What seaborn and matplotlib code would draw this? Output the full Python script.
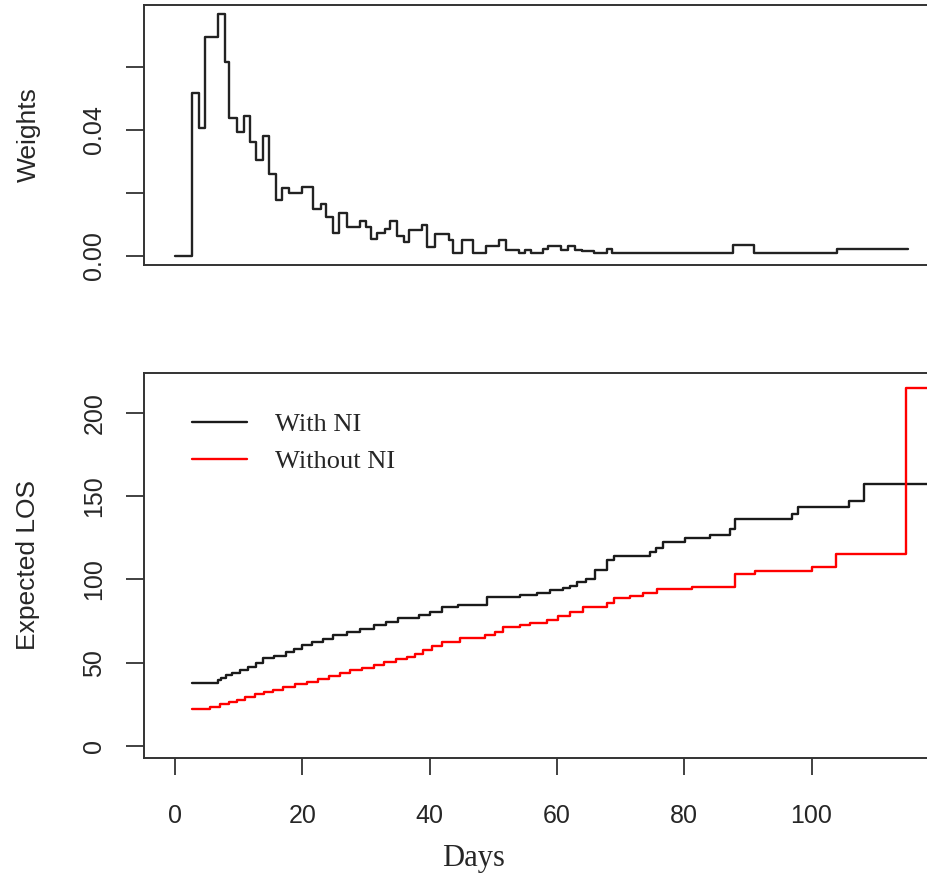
import numpy as np
import pandas as pd
import matplotlib
matplotlib.use("Agg")
import matplotlib.pyplot as plt
import seaborn as sns

# ---------------- data ----------------
weight_days = [0, 2.6, 3.7, 4.7, 6.7, 7.85, 8.5, 9.8, 10.9, 11.8, 12.7, 13.9, 14.7,
               15.8, 16.8, 17.9, 19.9, 21.7, 22.9, 23.7, 24.9, 25.8, 27.0, 29.1, 30.0,
               30.8, 31.7, 33.0, 33.8, 34.9, 35.9, 36.7, 38.8, 39.6, 40.9, 43.0, 43.6,
               45.1, 46.8, 48.8, 50.9, 52.0, 54.1, 55.0, 56.0, 57.8, 58.6, 60.7, 61.8,
               62.9, 63.9, 65.9, 67.9, 68.7, 87.7, 90.9, 104.0, 115.1]
weight_vals = [0.0, 0.0518, 0.0407, 0.0694, 0.0767, 0.0617, 0.0437, 0.0393, 0.0445,
               0.0363, 0.0305, 0.0382, 0.0260, 0.0178, 0.0215, 0.0201, 0.0218, 0.0148,
               0.0165, 0.0123, 0.0072, 0.0138, 0.0093, 0.0112, 0.0093, 0.0053, 0.0072,
               0.0085, 0.0112, 0.0063, 0.0045, 0.0081, 0.0100, 0.0030, 0.0071, 0.0052,
               0.0008, 0.0052, 0.0008, 0.0033, 0.0052, 0.0019, 0.0008, 0.0020, 0.0008,
               0.0022, 0.0033, 0.0020, 0.0033, 0.0020, 0.0017, 0.0008, 0.0022, 0.0008,
               0.0035, 0.0008, 0.0022, 0.0022]

with_days = [2.6, 6.7, 7.3, 8.0, 9.0, 10.2, 11.5, 12.8, 13.9, 15.5, 17.5, 18.7, 19.9,
             21.5, 23.2, 24.9, 27.0, 29.0, 31.2, 33.2, 35.1, 38.4, 40.0, 41.9, 44.5,
             49.0, 54.2, 56.8, 58.9, 61.0, 62.0, 63.1, 64.5, 66.0, 67.8, 68.9, 74.6,
             75.5, 76.7, 80.1, 84.0, 87.2, 88.0, 96.9, 97.9, 105.9, 108.2, 121.7]
with_los = [37.6, 39.5, 41.0, 42.6, 44.0, 45.6, 47.5, 49.6, 52.6, 54.0, 56.6, 58.5,
            60.6, 62.5, 64.5, 66.6, 68.5, 70.5, 72.6, 74.5, 76.6, 78.5, 80.5, 83.2,
            84.6, 89.6, 90.6, 92.0, 93.6, 95.0, 96.0, 98.6, 100.0, 105.6, 111.6, 114.0,
            116.5, 119.0, 122.6, 124.6, 126.6, 130.0, 136.2, 139.5, 143.2, 147.2, 157.3,
            157.3]

without_days = [2.6, 5.5, 7.0, 8.5, 9.7, 11.0, 12.5, 14.0, 15.4, 17.0, 18.8, 20.7,
                22.5, 24.2, 25.9, 27.5, 29.4, 31.2, 32.9, 34.7, 36.4, 37.7, 39.0, 40.4,
                41.9, 44.8, 48.7, 50.2, 51.6, 54.2, 55.8, 58.4, 60.2, 62.0, 64.1, 67.8,
                68.9, 71.5, 73.5, 75.7, 81.2, 88.0, 91.1, 100.0, 103.9, 114.9, 121.7]
without_los = [22.0, 23.6, 25.0, 26.5, 27.6, 29.5, 31.0, 32.5, 33.6, 35.5, 37.0, 38.6,
               40.5, 42.0, 43.6, 45.5, 47.0, 48.6, 50.5, 52.0, 53.6, 55.5, 57.6, 60.0,
               62.6, 64.6, 66.6, 68.6, 71.2, 72.6, 73.6, 75.6, 78.0, 80.6, 83.6, 85.6,
               88.6, 90.0, 92.0, 94.0, 95.2, 103.2, 105.0, 107.2, 115.2, 214.6, 214.6]

series_names = ["With NI", "Without NI"]
series_colors = {"With NI": "#1a1a1a", "Without NI": "#ff0000"}

x_ticks = [0, 20, 40, 60, 80, 100]
w_ticks = [0.00, 0.02, 0.04, 0.06]
w_tick_labels = ["0.00", "", "0.04", ""]
los_ticks = [0, 50, 100, 150, 200]

# ---------------- figure ----------------
sns.set_style("ticks")
plt.rcParams["font.family"] = ["Liberation Sans", "DejaVu Sans"]

W, H = 928, 880
fig = plt.figure(figsize=(W / 100, H / 100), dpi=100)

def fx(px):
    return px / W

def fy(py):
    return 1 - py / H

ax_left, ax_right = 144, 928
ax1 = fig.add_axes([fx(ax_left), fy(265), (ax_right - ax_left) / W, (265 - 5) / H])
ax2 = fig.add_axes([fx(ax_left), fy(758), (ax_right - ax_left) / W, (758 - 373) / H])

line_col = "#222222"
spine_col = "#333333"

# top panel: weights
wdf = pd.DataFrame({"Days": weight_days, "Weights": weight_vals})
sns.lineplot(data=wdf, x="Days", y="Weights", ax=ax1, drawstyle="steps-post",
             color=line_col, linewidth=1.7, estimator=None, sort=False)

# bottom panel: expected LOS
ldf = pd.concat([
    pd.DataFrame({"Days": with_days, "LOS": with_los, "Group": series_names[0]}),
    pd.DataFrame({"Days": without_days, "LOS": without_los, "Group": series_names[1]}),
], ignore_index=True)
sns.lineplot(data=ldf, x="Days", y="LOS", hue="Group", palette=series_colors, ax=ax2,
             drawstyle="steps-post", linewidth=1.7, estimator=None, sort=False)

xlim = (-4.87, 118.3)
for ax in (ax1, ax2):
    ax.spines["right"].set_visible(False)
    for s in ("left", "bottom", "top"):
        ax.spines[s].set_visible(True)
        ax.spines[s].set_linewidth(1.4)
        ax.spines[s].set_color(spine_col)
    ax.tick_params(axis="y", direction="out", length=13, width=1.3, color=spine_col,
                   labelsize=18, pad=14, labelrotation=90)

ax1.set_yticks(w_ticks)
ax1.set_yticklabels(w_tick_labels)
ax1.set_ylim(-0.00286, 0.0797)
ax1.set_xticks([])
ax1.set_xlabel("")
ax1.set_ylabel("Weights", fontsize=19)
ax1.yaxis.set_label_coords((29 - ax_left) / (ax_right - ax_left), 0.5)
ax1.yaxis.label.set_va("center")

ax2.set_yticks(los_ticks)
ax2.set_yticklabels([str(t) for t in los_ticks])
ax2.set_ylim(-7.2, 223.9)
ax2.set_xticks(x_ticks)
ax2.set_xticklabels([str(t) for t in x_ticks])
ax2.tick_params(axis="x", direction="out", length=12, width=1.3, color=spine_col,
                labelsize=18, pad=21)
ax2.set_ylabel("Expected LOS", fontsize=19)
ax2.yaxis.set_label_coords((28 - ax_left) / (ax_right - ax_left), 0.5)
ax2.yaxis.label.set_va("center")
ax2.set_xlabel("Days", fontsize=22, family=["Liberation Serif", "DejaVu Serif"])
ax2.xaxis.set_label_coords((474 - ax_left) / (ax_right - ax_left), (758 - 858) / (758 - 373))
ax2.xaxis.label.set_va("center")

for ax in (ax1, ax2):
    ax.set_xlim(*xlim)
    for lbl in ax.get_yticklabels():
        lbl.set_va("center")
        lbl.set_rotation(90)

# legend
old = ax2.get_legend()
handles = list(old.legend_handles)
labels = [t.get_text() for t in old.texts]
old.remove()
for h, lab in zip(handles, labels):
    h.set_color(series_colors[lab])
    h.set_linewidth(1.7)
ax2.legend(handles, labels, loc="upper left",
           bbox_to_anchor=((191.7 - ax_left) / (ax_right - ax_left), (758 - 413) / (758 - 373)),
           frameon=False, borderpad=0, borderaxespad=0, handlelength=2.1,
           handletextpad=1.05, labelspacing=0.5,
           prop={"family": ["Liberation Serif", "DejaVu Serif"], "size": 19})

fig.savefig("out.png", dpi=100)
